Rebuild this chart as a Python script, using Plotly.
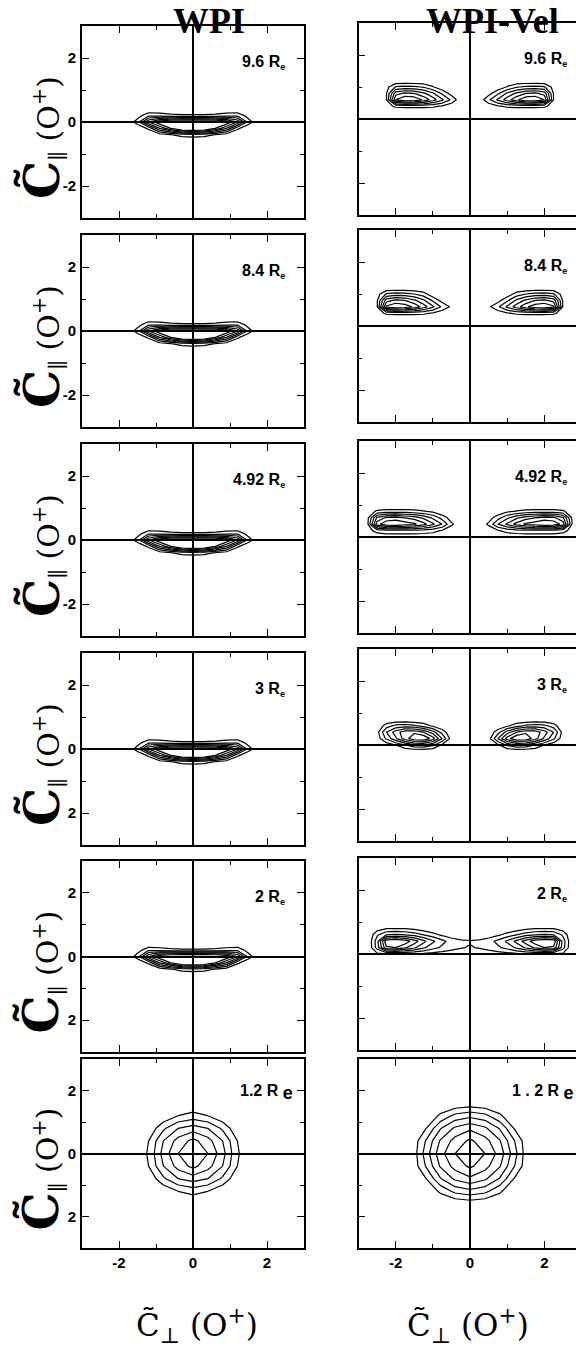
import plotly.graph_objects as go

W, H = 576, 1354

# ---------------- data ----------------
RADII_LEFT = ["9.6 R<sub><span style='font-size:9px'>e</span></sub>",
              "8.4 R<sub><span style='font-size:9px'>e</span></sub>",
              "4.92 R<sub><span style='font-size:9px'>e</span></sub>",
              "3 R<sub><span style='font-size:9px'>e</span></sub>",
              "2 R<sub><span style='font-size:9px'>e</span></sub>",
              "1.2 R <sub><span style='font-size:18px'>e</span></sub>"]
RADII_RIGHT = RADII_LEFT[:5] + ["1 . 2 R <sub><span style='font-size:18px'>e</span></sub>"]
COLUMN_TITLES = ["WPI", "WPI-Vel"]
Y_TICKVALS = [-2, 0, 2]
Y_TICKTEXT = [["-2", "0", "2"]] * 3 + [["2", "0", "2"]] * 3
X_TICKVALS = [-2, 0, 2]
X_TICKTEXT = ["-2", "0", "2"]

# WPI distribution (panels 9.6 .. 2 Re), half grid x>=0, mirrored
WPI_X_HALF = [0, 0.3, 0.6, 0.9, 1.2, 1.5, 1.8]
WPI_Y = [-0.6, -0.4, -0.2, 0.0, 0.2, 0.4]
WPI_Z_HALF = [
    [0, 0, 0, 0, 0, 0, 0],
    [1.6, 1.4, 0.9, 0.4, 0, 0, 0],
    [8.0, 7.6, 6.0, 4.0, 1.2, 0.2, 0],
    [8.0, 8.0, 7.8, 7.0, 5.0, 1.5, 0],
    [1.2, 1.2, 1.3, 1.6, 1.8, 0.5, 0],
    [0, 0, 0, 0, 0, 0, 0],
]

# WPI-Vel lobes, half grid x>=0, mirrored
LOBE_X = [0, 0.25, 0.5, 0.75, 1.0, 1.25, 1.5, 1.75, 2.0, 2.25, 2.5, 2.75, 3.0]
VEL_Y_96 = [0.2, 0.4, 0.6, 0.8, 1.0, 1.2]
VEL_Z_96 = [
    [0, 0, 0, 0, 0, 0, 0, 0, 0, 0, 0, 0, 0],
    [0, 0, 0.3, 0.9, 1.2, 1.3, 1.3, 1.3, 1.2, 0.6, 0, 0, 0],
    [0, 0.3, 1.8, 3.2, 4.5, 5.8, 6.8, 7.0, 6.0, 1.0, 0, 0, 0],
    [0, 0, 0.6, 1.8, 3.2, 4.2, 5.0, 5.2, 4.6, 0.9, 0, 0, 0],
    [0, 0, 0, 0.3, 1.1, 1.9, 2.2, 2.3, 2.1, 0.6, 0, 0, 0],
    [0, 0, 0, 0, 0, 0, 0, 0, 0, 0, 0, 0, 0],
]
VEL_Y_84 = [0.2, 0.4, 0.6, 0.8, 1.0, 1.2]
VEL_Z_84 = [
    [0, 0, 0, 0, 0, 0, 0, 0, 0, 0, 0, 0, 0],
    [0, 0, 0, 0.4, 0.9, 1.2, 1.3, 1.3, 1.3, 1.2, 0.5, 0, 0],
    [0, 0, 0.8, 1.8, 3.2, 4.5, 5.8, 6.6, 7.0, 6.2, 0.9, 0, 0],
    [0, 0, 0, 0.6, 1.8, 3.2, 4.2, 5.0, 5.2, 4.6, 0.9, 0, 0],
    [0, 0, 0, 0, 0.3, 1.4, 2.0, 2.3, 2.4, 2.1, 0.5, 0, 0],
    [0, 0, 0, 0, 0, 0, 0, 0, 0, 0, 0, 0, 0],
]
VEL_Y_492 = [-0.2, 0.0, 0.2, 0.4, 0.6, 0.8, 1.0]
VEL_Z_492 = [
    [0, 0, 0, 0, 0, 0, 0, 0, 0, 0, 0, 0, 0],
    [0, 0, 0, 0.3, 0.4, 0.4, 0.4, 0.4, 0.4, 0.4, 0.3, 0, 0],
    [0, 0, 0.3, 0.9, 1.3, 1.5, 1.6, 1.6, 1.6, 1.6, 1.4, 0.6, 0],
    [0, 0.3, 1.2, 3.0, 4.2, 5.4, 6.2, 6.6, 7.0, 6.8, 5.6, 0.9, 0],
    [0, 0, 0.5, 1.6, 2.8, 3.8, 4.6, 5.0, 5.4, 5.2, 4.2, 0.8, 0],
    [0, 0, 0, 0.2, 0.8, 1.1, 1.3, 1.4, 1.4, 1.4, 1.2, 0.3, 0],
    [0, 0, 0, 0, 0, 0, 0, 0, 0, 0, 0, 0, 0],
]
VEL_Y_3 = [-0.4, -0.2, 0.0, 0.2, 0.4, 0.6, 0.8]
VEL_Z_3 = [
    [0, 0, 0, 0, 0, 0, 0, 0, 0, 0, 0, 0, 0],
    [0, 0, 0, 0, 0.1, 0.1, 0.1, 0.1, 0, 0, 0, 0, 0],
    [0, 0, 0, 0.8, 2.2, 3.0, 2.8, 2.0, 1.0, 0.3, 0, 0, 0],
    [0, 0, 0.5, 3.0, 5.5, 7.0, 6.8, 5.5, 3.8, 2.2, 0.4, 0, 0],
    [0, 0, 0.2, 1.6, 3.5, 5.0, 5.8, 5.6, 4.5, 3.0, 0.6, 0, 0],
    [0, 0, 0, 0.2, 0.8, 1.6, 2.2, 2.5, 2.3, 1.5, 0.1, 0, 0],
    [0, 0, 0, 0, 0, 0, 0, 0, 0, 0, 0, 0, 0],
]
VEL_Y_2 = [-0.2, 0.0, 0.2, 0.4, 0.6, 0.8, 1.0]
VEL_Z_2 = [
    [0, 0, 0, 0, 0, 0, 0, 0, 0, 0, 0, 0, 0],
    [0.3, 0.3, 0.4, 0.5, 0.6, 0.8, 0.9, 0.9, 0.9, 0.9, 0.8, 0, 0],
    [0.9, 1.1, 1.4, 1.8, 2.4, 3.2, 4.2, 5.2, 6.0, 5.8, 2.4, 0, 0],
    [1.1, 1.2, 1.6, 2.3, 3.2, 4.3, 5.5, 6.6, 7.2, 6.8, 2.6, 0, 0],
    [0.2, 0.2, 0.4, 0.8, 1.4, 2.0, 2.6, 3.0, 3.2, 3.0, 1.8, 0, 0],
    [0, 0, 0, 0, 0.1, 0.4, 0.7, 0.9, 0.9, 0.9, 0.5, 0, 0],
    [0, 0, 0, 0, 0, 0, 0, 0, 0, 0, 0, 0, 0],
]

# 1.2 Re ring distributions: quadrant grids (x>=0, y>=0), mirrored
RING_Q = [0, 0.4, 0.8, 1.2, 1.6, 2.0]
RING_WPI_Q = [
    [6.0, 5.0, 3.4, 1.15, 0, 0],
    [5.3, 4.4, 3.0, 1.0, 0, 0],
    [3.5, 3.0, 1.8, 0.2, 0, 0],
    [1.4, 1.0, 0.2, 0, 0, 0],
    [0, 0, 0, 0, 0, 0],
    [0, 0, 0, 0, 0, 0],
]
RING_VEL_Q = [
    [7.0, 6.0, 4.6, 2.4, 0, 0],
    [6.2, 5.4, 4.1, 2.0, 0, 0],
    [4.8, 4.2, 2.9, 0.9, 0, 0],
    [2.7, 2.3, 1.2, 0, 0, 0],
    [0.3, 0.1, 0, 0, 0, 0],
    [0, 0, 0, 0, 0, 0],
]


def mirror_x(xh, zh):
    xf = [-v for v in reversed(xh[1:])] + list(xh)
    zf = [list(reversed(r[1:])) + list(r) for r in zh]
    return xf, zf


def mirror_xy(q, zq):
    xf, zf = mirror_x(q, zq)
    yf = [-v for v in reversed(q[1:])] + list(q)
    zf = list(reversed(zf[1:])) + zf
    return xf, yf, zf


wx, wz = mirror_x(WPI_X_HALF, WPI_Z_HALF)
left_data = [(wx, WPI_Y, wz, 6)] * 5
rx, ry, rz = mirror_xy(RING_Q, RING_WPI_Q)
left_data.append((rx, ry, rz, 5))

right_data = []
for yy, zz in [(VEL_Y_96, VEL_Z_96), (VEL_Y_84, VEL_Z_84), (VEL_Y_492, VEL_Z_492),
               (VEL_Y_3, VEL_Z_3), (VEL_Y_2, VEL_Z_2)]:
    xx, zf = mirror_x(LOBE_X, zz)
    right_data.append((xx, yy, zf, 6))
rx2, ry2, rz2 = mirror_xy(RING_Q, RING_VEL_Q)
right_data.append((rx2, ry2, rz2, 6))

# ---------------- layout geometry (px) ----------------
LEFT_ROWS = [(26, 218), (235, 427), (444, 636), (653, 845), (861, 1052), (1059, 1248)]
RIGHT_ROWS = [(23, 215), (230, 422), (441, 633), (649, 841), (858, 1050), (1059, 1248)]
LEFT_X = (82, 304)
RIGHT_X = (358.5, 576)
RIGHT_XMAX = (576 - 470) / 37.17

SANS = "Liberation Sans, Arial, sans-serif"
SERIF = "DejaVu Serif, serif"


def ydom(t, b):
    return [1 - b / H, 1 - t / H]


def bold(lst):
    return [f"<b>{s}</b>" for s in lst]


fig = go.Figure()
layout = dict(width=W, height=H, margin=dict(l=0, r=0, t=0, b=0),
              paper_bgcolor="white", plot_bgcolor="white", showlegend=False)

annotations = []
for k in range(6):
    for c in range(2):
        idx = 2 * k + c + 1
        xa = "x" if idx == 1 else f"x{idx}"
        ya = "y" if idx == 1 else f"y{idx}"
        xkey = "xaxis" if idx == 1 else f"xaxis{idx}"
        ykey = "yaxis" if idx == 1 else f"yaxis{idx}"
        rows = LEFT_ROWS if c == 0 else RIGHT_ROWS
        xpx = LEFT_X if c == 0 else RIGHT_X
        common = dict(showgrid=False, zeroline=True, zerolinecolor="black", zerolinewidth=1.6,
                      showline=True, linecolor="black", linewidth=1.6,
                      ticks="inside", ticklen=7, tickwidth=1.3, tickcolor="black",
                      minor=dict(ticks="inside", ticklen=4, tickvals=[-1, 1], tickwidth=1.3,
                                 tickcolor="black", showgrid=False),
                      fixedrange=True)
        xr = [-3, 3] if c == 0 else [-3, RIGHT_XMAX]
        layout[xkey] = dict(common, domain=[xpx[0] / W, xpx[1] / W], range=xr, anchor=ya,
                            mirror="ticks", tickvals=X_TICKVALS, ticktext=bold(X_TICKTEXT),
                            showticklabels=(k == 5),
                            tickfont=dict(family=SANS, size=15, color="black"))
        layout[ykey] = dict(common, domain=ydom(*rows[k]), range=[-3, 3], anchor=xa,
                            mirror=("ticks" if c == 0 else False),
                            tickvals=Y_TICKVALS, ticktext=bold(Y_TICKTEXT[k]),
                            showticklabels=(c == 0), ticklabelstandoff=1,
                            tickfont=dict(family=SANS, size=15, color="black"))
        xx, yy, zz, nlev = (left_data if c == 0 else right_data)[k]
        fig.add_trace(go.Contour(x=xx, y=yy, z=zz, xaxis=xa, yaxis=ya,
                                 contours=dict(start=1, end=nlev, size=1, coloring="lines"),
                                 colorscale=[[0, "black"], [1, "black"]],
                                 line=dict(width=1.2, smoothing=0),
                                 showscale=False, hoverinfo="skip"))
        # panel label
        label = (RADII_LEFT if c == 0 else RADII_RIGHT)[k]
        lx = 2.55 if c == 0 else 2.66
        ly = 1.85
        if k == 5:
            lx = 2.75 if c == 0 else 2.84
            ly = 1.95
        annotations.append(dict(text=f"<b>{label}</b>", xref=xa, yref=ya, x=lx, y=ly,
                                xanchor="right", yanchor="middle", showarrow=False,
                                font=dict(family=SANS, size=16, color="black")))
    # rotated y title for left column
    t, b = LEFT_ROWS[k]
    yc = (t + b) / 2 + 16
    annotations.append(dict(text="<b><span style='font-size:48px'>C̃</span></b><sub>∥</sub> (O<sup>+</sup>)",
                            xref="paper", yref="paper", x=41 / W, y=1 - yc / H,
                            xanchor="center", yanchor="middle", textangle=-90, showarrow=False,
                            font=dict(family=SERIF, size=30, color="black")))

# column headers
annotations.append(dict(text="<b>WPI</b>", xref="paper", yref="paper", x=209 / W, y=1 - 21 / H,
                        xanchor="center", yanchor="middle", showarrow=False,
                        font=dict(family="Liberation Serif, serif", size=36, color="black")))
annotations.append(dict(text="<b>WPI-Vel</b>", xref="paper", yref="paper", x=492 / W, y=1 - 21 / H,
                        xanchor="center", yanchor="middle", showarrow=False,
                        font=dict(family="Liberation Serif, serif", size=36, color="black")))
# bottom x titles
for xc in (197, 468):
    annotations.append(dict(text="C̃<sub>⊥</sub> (O<sup>+</sup>)", xref="paper", yref="paper",
                            x=xc / W, y=1 - 1325 / H, xanchor="center", yanchor="middle",
                            showarrow=False, font=dict(family=SERIF, size=31, color="black")))

layout["annotations"] = annotations
fig.update_layout(**layout)
fig.write_html("out.html")
